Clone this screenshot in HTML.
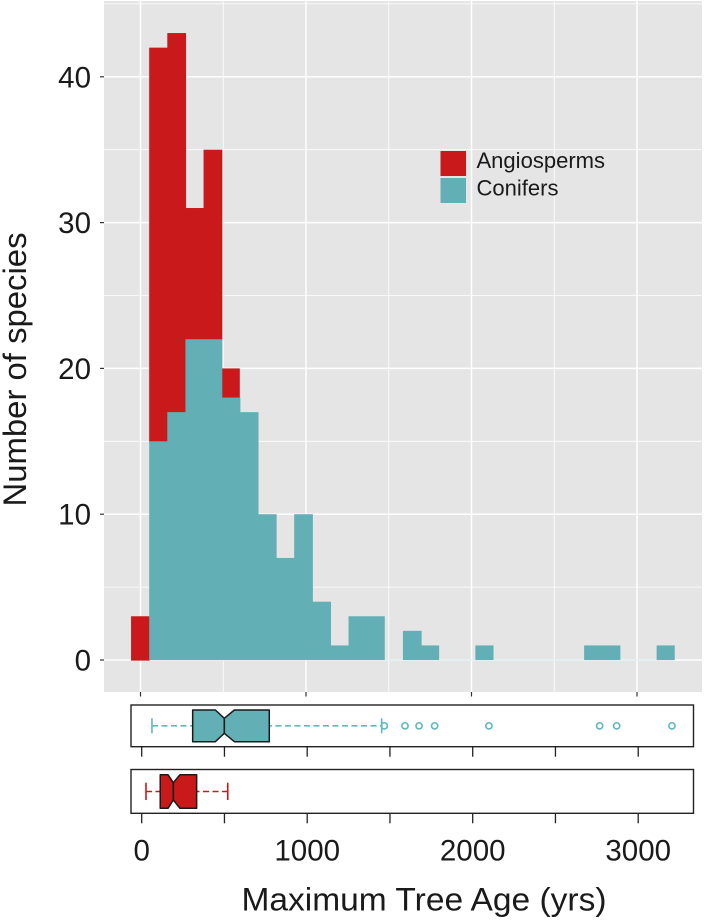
<!DOCTYPE html>
<html lang="en">
<head>
<meta charset="utf-8">
<title>Maximum Tree Age histogram</title>
<style>
html,body{margin:0;padding:0;background:#fff;width:705px;height:921px;overflow:hidden}
svg{display:block}
text{font-family:"Liberation Sans",Arial,sans-serif;fill:#1a1a1a}
</style>
</head>
<body>
<svg id="chart" xmlns="http://www.w3.org/2000/svg" width="705" height="921" viewBox="0 0 705 921">
  <rect x="104" y="1" width="598" height="691" fill="#e5e5e5"/>
  <g id="grid"></g>
  <g id="bars"></g>
  <g id="yaxis"></g>
  <g id="xaxis"></g>
  <g>
    <rect x="440.5" y="151" width="25.5" height="25" fill="#c9191b"/>
    <rect x="440.5" y="178" width="25.5" height="25" fill="#62b0b6"/>
    <text x="476.5" y="168" font-size="22" textLength="128.5" lengthAdjust="spacingAndGlyphs">Angiosperms</text>
    <text x="476.5" y="195.5" font-size="22" textLength="82" lengthAdjust="spacingAndGlyphs">Conifers</text>
  </g>
  <g id="box-conifers"></g>
  <g id="box-angio"></g>
  <text transform="translate(26,506.5) rotate(-90)" font-size="32" textLength="274" lengthAdjust="spacingAndGlyphs">Number of species</text>
  <text x="241.5" y="910.5" font-size="32.5" textLength="365" lengthAdjust="spacingAndGlyphs">Maximum Tree Age (yrs)</text>
</svg>
<script>
// ---- chart data ----
var binStart = -57;
var binWidth = 109.5;
var coniferCounts = [0,15,17,22,22,18,17,10,7,10,4,1,3,3,0,2,1,0,0,1,0,0,0,0,0,1,1,0,0,1];
var angiospermCounts = [3,27,26,9,13,2,0,0,0,0,0,0,0,0,0,0,0,0,0,0,0,0,0,0,0,0,0,0,0,0];
var yTicks = [0,10,20,30,40];
var yMinor = [5,15,25,35,45];
var xTicks = [0,1000,2000,3000];
var xMinor = [500,1500,2500];
var boxTicks = [0,500,1000,1500,2000,2500,3000];
var boxLabels = [0,1000,2000,3000];
var coniferBox = [62,308,445,499,560,771,1450];
var coniferOutliers = [1466,1591,1676,1770,2098,2767,2870,3204];
var angioBox = [26,112,159,191,231,332,520];
var angioOutliers = [];

// ---- axes ----
function xTop(v){return 140.5 + v*0.1655;}
function yTop(v){return 660 - v*14.58;}
function xBox(v){return 141.7 + v*0.1655;}

var NS = 'http://www.w3.org/2000/svg';
function mk(parent, tag, attrs){
  var el = document.createElementNS(NS, tag);
  for (var k in attrs) el.setAttribute(k, attrs[k]);
  parent.appendChild(el);
  return el;
}
var grid = document.getElementById('grid');
yMinor.forEach(function(v){
  var el = mk(grid,'line',{x1:104,x2:702,y1:yTop(v),y2:yTop(v),stroke:'#fff','stroke-width':0.8});
  
  
});
xMinor.forEach(function(v){
  var el = mk(grid,'line',{x1:xTop(v),x2:xTop(v),y1:1,y2:692,stroke:'#fff','stroke-width':0.8});
  
  
});
yTicks.forEach(function(v){
  var el = mk(grid,'line',{x1:104,x2:702,y1:yTop(v),y2:yTop(v),stroke:'#fff','stroke-width':1.5});
  
  
});
xTicks.forEach(function(v){
  var el = mk(grid,'line',{x1:xTop(v),x2:xTop(v),y1:1,y2:692,stroke:'#fff','stroke-width':1.5});
  
  
});

// ---- histogram ----
var bars = document.getElementById('bars');
var base = mk(bars,'line',{x1:xTop(binStart),x2:xTop(binStart+binWidth*coniferCounts.length),y1:yTop(0),y2:yTop(0),stroke:'#e0f0ee','stroke-width':1.5});


// a small overlap hides antialiasing seams between neighbouring bins
var seam = 0.6;
coniferCounts.forEach(function(c,i){
  var a = angiospermCounts[i];
  var x0 = xTop(binStart+i*binWidth), x1 = xTop(binStart+(i+1)*binWidth);
  var nextC = i+1 < coniferCounts.length ? coniferCounts[i+1] : 0;
  var nextA = i+1 < angiospermCounts.length ? angiospermCounts[i+1] : 0;
  if (a > 0) {
    var r = mk(bars,'rect',{x:x0,y:yTop(c+a),width:x1-x0+(nextA>0?seam:0),height:yTop(c)-yTop(c+a)+seam,fill:'#c9191b'});
    
    
  }
});
coniferCounts.forEach(function(c,i){
  var x0 = xTop(binStart+i*binWidth), x1 = xTop(binStart+(i+1)*binWidth);
  var nextC = i+1 < coniferCounts.length ? coniferCounts[i+1] : 0;
  if (c > 0) {
    var t = mk(bars,'rect',{x:x0,y:yTop(c),width:x1-x0+(nextC>0?seam:0),height:yTop(0)-yTop(c),fill:'#62b0b6'});
    
    
  }
});

// ---- y axis ----
var yaxis = document.getElementById('yaxis');
yTicks.forEach(function(v){
  var tk = mk(yaxis,'line',{x1:100,x2:104,y1:yTop(v),y2:yTop(v),stroke:'#333','stroke-width':1.2});
  
  
  var tx = mk(yaxis,'text',{x:91,y:yTop(v)+10.5,'font-size':29.5,'text-anchor':'end'});
  tx.textContent = String(v);
  
  
});

// ---- x axis ----
var xaxis = document.getElementById('xaxis');
xTicks.forEach(function(v){
  var tk = mk(xaxis,'line',{x1:xTop(v),x2:xTop(v),y1:692,y2:696.5,stroke:'#333','stroke-width':1.2});
  
  
});
boxLabels.forEach(function(v){
  var tx = mk(xaxis,'text',{x:xBox(v),y:860.5,'font-size':29.5,'text-anchor':'middle'});
  tx.textContent = String(v);
  
  
});

// ---- boxplots ----
function drawBox(g, vals, outliers, color, fill, frameTop, frameBottom, boxTop, boxBottom, notchTop, notchBottom){
  var frame = mk(g,'rect',{x:131,y:frameTop,width:562.5,height:frameBottom-frameTop,fill:'#fff',stroke:'#222','stroke-width':1.4});
  
  
  boxTicks.forEach(function(v){
    var tk = mk(g,'line',{x1:xBox(v),x2:xBox(v),y1:frameBottom,y2:frameBottom+10,stroke:'#222','stroke-width':1.3});
    
    
  });
  var cy = (boxTop+boxBottom)/2;
  var wl = mk(g,'line',{x1:xBox(vals[0]),x2:xBox(vals[6]),y1:cy,y2:cy,stroke:color,'stroke-width':1.6,'stroke-dasharray':'6 3.5'});
  
  
  [vals[0],vals[6]].forEach(function(v){
    var cap = mk(g,'line',{x1:xBox(v),x2:xBox(v),y1:notchTop,y2:notchBottom,stroke:color,'stroke-width':1.6});
    
    
  });
  var q1=xBox(vals[1]),nl=xBox(vals[2]),m=xBox(vals[3]),nh=xBox(vals[4]),q3=xBox(vals[5]);
  var pts=[[q1,boxTop],[nl,boxTop],[m,notchTop],[nh,boxTop],[q3,boxTop],[q3,boxBottom],[nh,boxBottom],[m,notchBottom],[nl,boxBottom],[q1,boxBottom]];
  var b = mk(g,'polygon',{points:pts.map(function(p){return p.join(',');}).join(' '),fill:fill,stroke:'#1a1a1a','stroke-width':1.5,'stroke-linejoin':'round'});
  
  
  var med = mk(g,'line',{x1:m,x2:m,y1:notchTop,y2:notchBottom,stroke:'#1a1a1a','stroke-width':1.6});
  
  
  outliers.forEach(function(v){
    var c = mk(g,'circle',{cx:xBox(v),cy:cy,r:3.1,fill:'none',stroke:color,'stroke-width':1.6});
    
    
  });
}
drawBox(document.getElementById('box-conifers'),coniferBox,coniferOutliers,'#5fb8bd','#62b0b6',705,746.7,710,741.7,718.3,733.3);
drawBox(document.getElementById('box-angio'),angioBox,angioOutliers,'#c9191b','#c9191b',769.5,813.3,774.7,808.3,782.7,800);
</script>
</body>
</html>
